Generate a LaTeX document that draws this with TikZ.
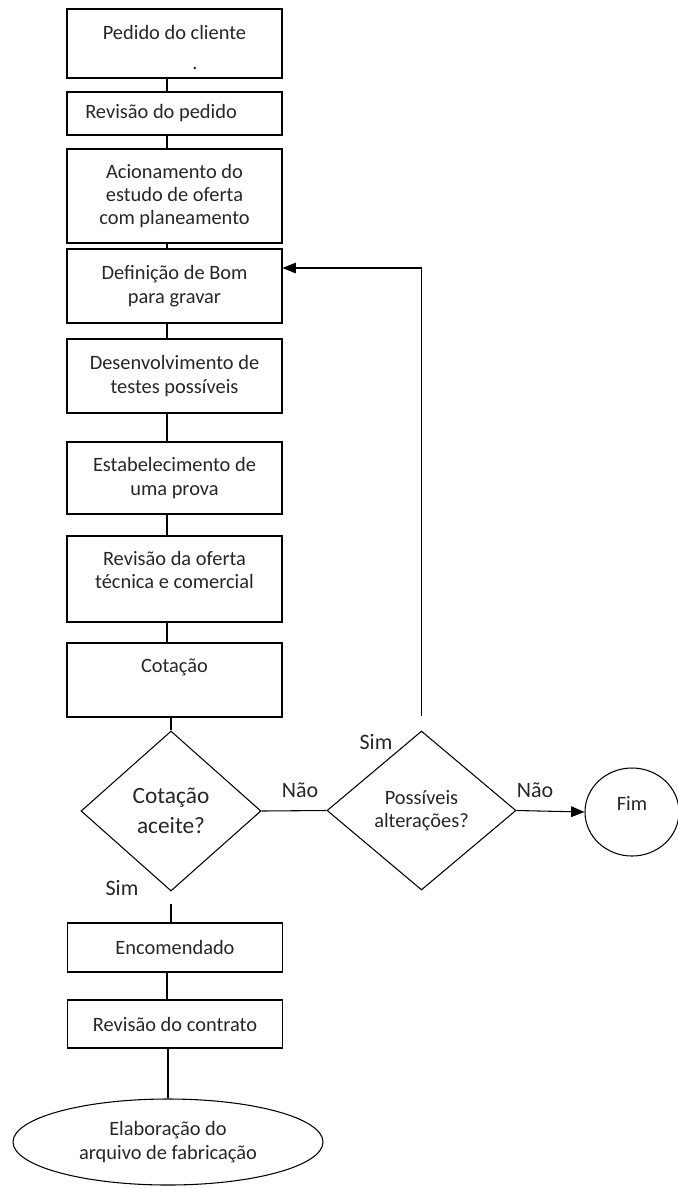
\documentclass[tikz,border=0pt]{standalone}
\usepackage{fontspec}
\setmainfont{Carlito}
\usetikzlibrary{shapes.geometric,arrows.meta}
\definecolor{ink}{gray}{0.15}
\begin{document}
\begin{tikzpicture}[x=0.75pt,y=-0.75pt,
  every node/.style={font=\fontsize{15.3}{17.5}\selectfont, text=ink},
  box/.style={draw, line width=0.8pt, rectangle, minimum width=215*0.75pt, inner sep=0pt, align=center},
  txt/.style={inner sep=0pt, align=center},
  dec/.style={draw, diamond, line width=0.8pt, inner sep=0pt, align=center, aspect=1.125},
  term/.style={draw, ellipse, line width=0.8pt, inner sep=0pt, align=center},
  link/.style={line width=0.8pt},
  arrowlink/.style={line width=0.8pt, -{Triangle[length=10pt,width=8pt]}},
  tag/.style={inner sep=0pt, font=\fontsize{16.5}{19}\selectfont}
]
\useasboundingbox (0,0) rectangle (678,1189);

% process boxes
\node[box, minimum height=69*0.75pt] (b1) at (174.5,43.5) {};
\node[txt] (t1) at (174.5,32) {Pedido do cliente};
\node[txt, anchor=base] (t1dot) at (195,69) {.};
\node[box, minimum height=43*0.75pt] (b2) at (174.5,113.5) {};
\node[txt, anchor=west] (t2) at (85,113) {Revisão do pedido};
\node[box, minimum height=94*0.75pt] (b3) at (174.5,196) {Acionamento do\\estudo de oferta\\com planeamento};
\node[box, minimum height=74*0.75pt] (b4) at (174.5,286) {Definição de Bom\\para gravar};
\node[box, minimum height=74*0.75pt] (b5) at (174.5,376) {Desenvolvimento de\\testes possíveis};
\node[box, minimum height=72*0.75pt] (b6) at (174.5,478) {Estabelecimento de\\uma prova};
\node[box, minimum height=86*0.75pt] (b7) at (174.5,579) {};
\node[txt] (t7) at (174.5,570) {Revisão da oferta\\técnica e comercial};
\node[box, minimum height=74*0.75pt] (b8) at (174.5,680) {};
\node[txt] (t8) at (174.5,667) {Cotação};

% decisions
\node[dec, minimum width=180*0.75pt, minimum height=160*0.75pt, font=\fontsize{17.5}{22.5}\selectfont] (d1) at (171,811) {Cotação\\aceite?};
\node[dec, minimum width=189*0.75pt, minimum height=159*0.75pt] (d2) at (421.5,810.5) {Possíveis\\alterações?};
\node[term, minimum width=94*0.75pt, minimum height=88*0.75pt] (fim) at (632,812) {};
\node[txt] (tfim) at (632,803) {Fim};

% after acceptance
\node[box, minimum height=49*0.75pt] (b9) at (175,947.5) {Encomendado};
\node[box, minimum height=48*0.75pt] (b10) at (175,1024) {Revisão do contrato};
\node[term, minimum width=310*0.75pt, minimum height=86*0.75pt] (e1) at (168,1142) {Elaboração do\\arquivo de fabricação};

% connectors
\coordinate (spine) at (167,0);
\draw[link] (b1.south -| spine) -- (b2.north -| spine);
\draw[link] (b2.south -| spine) -- (b3.north -| spine);
\draw[link] (b3.south -| spine) -- (b4.north -| spine);
\draw[link] (b4.south -| spine) -- (b5.north -| spine);
\draw[link] (b5.south -| spine) -- (b6.north -| spine);
\draw[link] (b6.south -| spine) -- (b7.north -| spine);
\draw[link] (b7.south -| spine) -- (b8.north -| spine);
\draw[link] (b8.south -| d1.north) -- (d1.north);
\draw[link, shorten <=9pt] (d1.south) -- (b9.north -| d1.south);
\draw[link] (b9.south -| spine) -- (b10.north -| spine);
\draw[link] (b10.south -| e1.north) -- (e1.north);
\draw[link] (d1.east) -- (d2.west);
\coordinate (loop) at (421.5,268);
\draw[arrowlink, shorten <=10.5pt] (d2.north) -- (loop) -- (b4.east |- loop);
\draw[arrowlink] (d2.east) -- (fim.west);

% branch labels
\node[tag] (n1) at (300,790) {Não};
\node[tag] (s2) at (376,742) {Sim};
\node[tag] (n2) at (535,790) {Não};
\node[tag] (s1) at (122,888) {Sim};
\end{tikzpicture}
\end{document}
